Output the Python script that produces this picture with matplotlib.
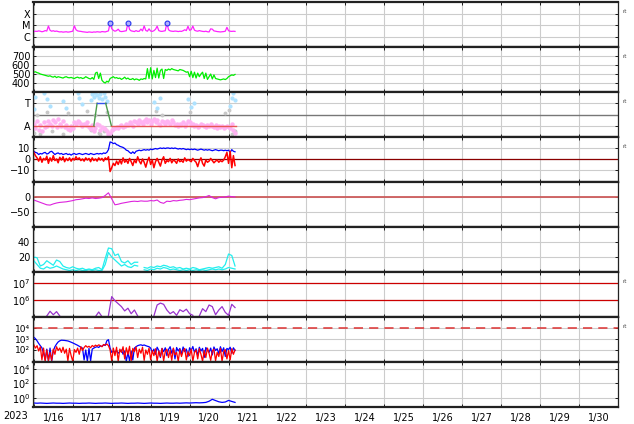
import numpy as np
import pandas as pd
import matplotlib
matplotlib.use('Agg')
import matplotlib.pyplot as plt
import matplotlib.dates as mdates
from matplotlib.ticker import FixedLocator, FixedFormatter, NullLocator, FuncFormatter

nan = np.nan
start = pd.Timestamp('2023-01-15 12:00')

# --- panel 1: x-ray flux (1e-6 W/m2), hourly
xray = [2.8, 3.0, 2.9, 3.2, 3.0, 2.7, 2.9, 3.4, 3.1, 8.5,
        3.6, 3.0, 3.3, 2.9, 3.1, 2.8, 2.6, 2.7, 2.5, 2.6,
        2.7, 2.5, 2.6, 2.8, 3.0, 8.8, 4.0, 3.2, 3.0, 2.9,
        2.7, 2.6, 2.5, 2.4, 2.6, 2.5, 2.4, 2.6, 2.5, 2.7,
        2.6, 2.5, 2.8, 2.7, 2.6, 2.9, 3.2, 16.0, 5.0, 3.6,
        3.0, 3.4, 4.5, 3.0, 2.8, 2.9, 3.1, 3.3, 16.0, 4.2,
        3.2, 3.0, 2.8, 3.4, 2.9, 3.0, 4.6, 3.2, 8.6, 3.5,
        3.0, 4.8, 3.1, 2.9, 3.3, 4.4, 8.2, 3.4, 3.0, 2.9,
        3.1, 3.3, 16.0, 4.0, 3.2, 3.0, 2.9, 3.1, 3.0, 2.8,
        3.0, 2.9, 3.3, 4.0, 3.4, 8.0, 3.6, 4.1, 8.4, 3.7,
        3.2, 3.0, 3.4, 3.1, 2.9, 2.8, 3.0, 2.7, 2.6, 4.8,
        4.5, 3.2, 3.0, 2.8, 2.7, 2.6, 2.7, 2.8, 3.0, 6.5,
        3.3, 3.0, 2.9, 3.0, 2.9]
flare_hours = [47, 58, 82]
flare_vals = [16.0, 16.0, 16.0]

# --- panel 2: wind speed, hourly
speed = [520, 525, 515, 510, 500, 495, 490, 485, 480,
         475, 480, 470, 465, 475, 460, 470, 465, 460, 455, 465, 470,
         460, 458, 462, 455, 450, 460, 465, 455, 460, 450, 455, 470, 460, 450, 445,
         460, 440, 510, 520, 450, 510, 430, 410, 400, 420, 410,
         450, 460, 470, 455, 460, 450, 455, 440, 450, 465, 445, 455, 440,
         440, 450, 435, 445, 440, 430, 445, 440, 450, 445,
         560, 450, 570, 445, 540, 460, 565, 455, 540, 555, 450,
         550, 540, 555, 545, 560, 550, 545, 540, 535, 550, 545, 540, 530, 520, 525,
         470, 530, 460, 520, 455, 510, 470, 500,
         520, 450, 510, 440, 470, 500, 445, 490, 450, 445, 440, 435,
         440, 445, 438, 450, 470, 480, 490, 485, 495]

# --- panel 3: status dots and state line
pink_dots = [1.2, 0.8, 1.4, 0.6, 1.1, 0.5, 1.3, 0.9, 1.0, 1.4,
             1.2, 1.0, 1.5, 1.3, 0.9, 1.6, 1.2, 1.0, 1.4, 0.9,
             1.1, 0.7, 0.6, 1.0, 0.8, 1.3, 1.2, 1.4, 1.3, 1.2,
             1.0, 1.2, 1.1, 1.3, 0.9, 0.7, 1.1, 0.5, 0.8, 1.2,
             1.1, 0.6, 0.9, 0.8, 0.7, 0.5, 0.3, 0.4, 0.6, 0.7,
             0.8, 0.9, 0.8, 1.0, 1.1, 0.9, 1.0, 1.2, 1.1, 1.3,
             1.2, 1.0, 1.4, 1.3, 1.2, 1.5, 1.3, 1.2, 1.4, 1.6,
             1.3, 1.5, 1.2, 1.4, 1.6, 1.3, 1.5, 1.2, 1.1, 1.4,
             1.3, 1.2, 1.4, 1.3, 1.2, 1.5, 1.3, 1.1, 1.2, 1.0,
             1.2, 1.1, 1.3, 1.0, 1.2, 1.4, 1.3, 1.1, 1.2, 1.0,
             1.1, 0.9, 1.0, 1.2, 1.1, 1.0, 0.9, 1.1, 1.0, 1.2,
             1.0, 0.9, 1.1, 0.8, 1.0, 0.9, 1.0, 0.8, 0.9, 1.0,
             0.9, 0.8, 1.2, 0.6, 0.4]
sky_hours = [0, 1, 6, 8, 10, 18, 20, 27, 28, 30,
             35, 36, 37, 38, 39, 40, 41, 42, 43, 44, 45,
             74, 76, 78, 95, 97, 99, 121, 122, 123, 124]
sky_vals = [2.5, 3.6, 3.9, 3.4, 2.8, 3.2, 2.6, 3.9, 3.5, 2.9,
            3.3, 3.8, 3.6, 3.9, 3.7, 3.5, 3.8, 3.4, 3.9, 3.6, 3.2,
            3.1, 2.6, 3.5, 3.4, 2.7, 3.0, 2.8, 3.5, 3.9, 3.3]
gray_hours = [0, 2, 4, 8, 11, 18, 21, 33, 35, 38, 40, 41, 43, 45, 75, 79, 96, 118, 120, 122, 124]
gray_vals = [0.4, 2.0, 0.3, 2.2, 0.5, 0.3, 2.1, 2.3, 0.6, 2.0, 0.4, 0.3, 0.5, 2.2, 2.3, 2.0, 2.2, 2.1, 2.4, 0.3, 0.5]
state_hours = [0, 37, 39, 44.3, 47.8, 124.5]
state_vals = [1, 1, 3, 3, 1, 1]
state_colors = ['#e85555', '#4a9a4a', '#3355ee', '#4a9a4a', '#e85555']

# --- panel 4: field components, hourly
bz_blue = [7.0, 6.0, 5.5, 4.0, 5.0, 4.5, 5.5, 6.0, 4.5, 5.0,
           6.5, 7.0, 5.5, 4.0, 5.0, 5.5, 4.5, 5.0, 4.0, 4.5,
           5.0, 4.0, 4.5, 3.5, 4.5, 5.0, 4.0, 4.5, 5.0, 4.5,
           4.0, 4.5, 5.0, 4.5, 4.0, 5.0, 4.5, 4.0, 4.5, 5.0,
           4.5, 5.0, 4.5, 5.5, 5.0, 6.0, 8.5,
           15.5, 15.0, 14.0, 14.5, 13.0, 12.5, 11.5, 11.0, 10.5, 9.5,
           8.0, 7.5, 6.0, 5.0, 6.5, 5.0, 7.0, 7.5, 8.0, 7.5,
           8.0, 8.5, 8.0, 8.5, 8.0, 9.0, 8.5, 9.0, 9.5, 9.0,
           9.5, 10.0, 9.5, 10.0, 9.5, 10.0, 10.0, 9.5, 10.0, 9.5,
           10.0, 9.5, 9.0, 9.5, 9.0, 9.5, 9.0, 8.5, 9.0, 8.5,
           9.0, 8.5, 9.0, 8.5, 8.0, 8.5, 9.0, 8.5, 8.0, 8.5,
           8.0, 8.5, 8.0, 7.5, 8.0, 8.5, 8.0, 7.5, 8.0, 8.0,
           7.5, 8.0, 7.5, 8.0, 6.0, 8.5, 7.0, 6.5]
bz_red = [6.0, 3.0, 1.0, -2.0, 2.0, -3.0, 0.5, -1.0, 2.5, -4.0,
          1.0, -2.0, 3.0, -1.5, 0.0, -3.5, 1.5, -1.0, 2.0, -2.5,
          0.5, -1.5, 1.0, -2.0, 0.5, -1.0, 2.0, -0.5, 1.0, -1.5,
          0.0, -2.0, 1.0, -1.0, 0.5, -2.5, 1.0, -1.5, 0.0, -2.0,
          1.0, -1.0, 0.5, -2.0, 1.0, -0.5, 2.0,
          -11.5, -8.0, -4.0, -6.0, -2.0, -5.0, -1.0, -4.5, 1.0, -3.0,
          -1.0, -4.0, 0.5, -2.5, -6.0, -1.0, -3.5, 2.0, -2.0, -4.5,
          0.0, -3.0, -7.5, -2.0, 1.5, -5.0, -1.0, -8.0, -2.5, 0.5,
          -3.0, -6.5, -1.0, 2.0, -4.0, -1.5, -2.5, 0.5, -3.5, -1.0,
          -2.0, -4.0, 0.0, -2.5, -1.5, -3.0, 1.0, -2.0, -0.5, -1.5,
          -2.5, 0.5, -1.5, -3.0, -7.0, -2.0, 1.0, -4.0, -6.5, -1.0,
          -3.0, -2.0, 0.5, -1.5, -3.5, -2.0, -1.0, -3.0, -1.5, -2.5,
          -1.0, 2.0, 6.0, -4.0, 7.0, -8.0, 3.0, -6.0]

# --- panel 5: index, 2-hourly
dst = [-10, -14, -18, -22, -26, -27, -23, -20, -18, -17,
       -16, -14, -12, -9, -8, -6, -4, -5, -3, -5,
       -4, -2, 5, 14, -6, -26, -24, -21, -19, -17,
       -15, -14, -15, -13, -14, -14, -12, -13, -10, -18,
       -21, -14, -15, -12, -13, -11, -10, -8, -9, -7,
       -5, -3, -2, 1, 5, -2, -6, -2, -1, 0,
       3, 1, 0]

# --- panel 6: two cyan traces, 2-hourly
cyan_a = [20, 19, 8, 10, 15, 12, 9, 16, 14, 8,
          6, 5, 7, 5, 4, 5, 3, 4, 3, 5,
          6, 3, 18, 32, 31, 22, 24, 14, 12, 15,
          10, 13, 13, nan, 6, 5, 7, 6, 8, 7,
          9, 8, 6, 7, 5, 6, 4, 5, 4, 6,
          5, 3, 4, 5, 6, 5, 6, 7, 5, 10,
          24, 22, 8]
cyan_b = [15, 10, 5, 4, 7, 5, 6, 8, 6, 4,
          3, 2, 3, 2, 3, 2, 2, 3, 2, 3,
          2, 2, 10, 26, 20, 16, 12, 8, 10, 7,
          6, 9, 8, nan, 3, 2, 4, 3, 5, 4,
          6, 5, 3, 4, 3, 2, 3, 2, 3, 2,
          3, 2, 3, 2, 3, 4, 3, 4, 3, 4,
          6, 5, 4]

# --- panel 7: proton flux, 2-hourly
proton = [nan, nan, nan, nan, 1.1e5, 2.1e5, 1.3e5, 2.0e5, 1.1e5, nan,
          nan, nan, nan, nan, nan, nan, nan, nan, nan, 1.0e5,
          1.9e5, 1.0e5, nan, 1.2e5, 1.6e6, 9e5, 6e5, 4e5, 2.2e5, 3.2e5,
          1.5e5, 2.5e5, 1.1e5, nan, nan, nan, nan, 1.1e5, 5e5, 6.5e5,
          5.5e5, 2.5e5, 1.5e5, 2e5, 1.2e5, 2.6e5, 2e5, 2.8e5, 1.5e5, 1.2e5,
          nan, 1.1e5, 3e5, 2e5, 5e5, 4e5, 1.3e5, 2.5e5, 4e5, 1.8e5,
          1.2e5, 5.5e5, 3.5e5]

# --- panel 8: electron / particle counts, hourly
e_blue = [1500, 1100, 700, 400, 250, 160, 50, 12, 120, 10,
          150, 9, 80, 200, 350, 550, 700, 800, 780, 760,
          720, 680, 600, 520, 450, 380, 320, 270, 220, 180,
          150, 12, 100, 9, 140, 10, 120, 150, 180, 200,
          170, 240, 210, 300, 260, 700, 900, 150, 60, 80,
          60, 90, 50, 70, 100, 40, 80, 9, 60, 10,
          80, 12, 150, 200, 250, 280, 300, 260, 290, 250,
          220, 200, 150, 60, 120, 40, 180, 90, 20, 140,
          70, 160, 30, 110, 200, 50, 130, 15, 170, 80,
          140, 40, 190, 70, 120, 25, 160, 90, 210, 60,
          130, 30, 180, 80, 140, 20, 170, 100, 60, 150,
          35, 190, 90, 130, 45, 200, 70, 160, 25, 140,
          110, 180, 50, 160, 90]
e_red = [300, 150, 250, 80, 200, 12, 150, 9, 100, 10,
         60, 11, 120, 40, 200, 90, 150, 60, 180, 50,
         120, 10, 140, 30, 9, 110, 60, 150, 40, 200,
         90, 170, 250, 180, 220, 160, 260, 200, 280, 230,
         300, 250, 200, 320, 280, 350, 250, 100, 10, 150,
         30, 180, 9, 120, 60, 200, 15, 160, 40, 220,
         10, 140, 70, 190, 20, 120, 50, 180, 11, 100,
         40, 150, 12, 90, 30, 130, 9, 80, 25, 140,
         10, 70, 120, 20, 90, 11, 150, 35, 60, 9,
         110, 25, 80, 140, 12, 70, 30, 120, 9, 60,
         100, 15, 130, 40, 9, 90, 20, 150, 50, 11,
         80, 120, 10, 60, 25, 140, 9, 70, 110, 15,
         90, 12, 130, 40, 100]
e_tick_labels = ['10\u00b2', '10\u00b3', '10\u2074']

# --- panel 9: 2-hourly
low_flux = [0.18, 0.17, 0.18, 0.17, 0.16, 0.17, 0.18, 0.17, 0.17, 0.16,
            0.17, 0.18, 0.17, 0.17, 0.16, 0.17, 0.17, 0.18, 0.17, 0.16,
            0.17, 0.17, 0.18, 0.17, 0.16, 0.17, 0.17, 0.18, 0.17, 0.16,
            0.17, 0.17, 0.18, 0.17, 0.16, 0.17, 0.18, 0.17, 0.17, 0.16,
            0.17, 0.18, 0.17, 0.17, 0.18, 0.17, 0.18, 0.19, 0.18, 0.19,
            0.20, 0.19, 0.20, 0.22, 0.32, 0.60, 0.40, 0.27, 0.22, 0.25,
            0.42, 0.30, 0.22]


def hourly(vals):
    return pd.date_range(start, periods=len(vals), freq='1h')


def two_hourly(vals):
    return pd.date_range(start, periods=len(vals), freq='2h')


def at_hours(hours):
    return start + pd.to_timedelta(hours, unit='h')


plt.rcParams['font.family'] = 'DejaVu Sans'
fig, axs = plt.subplots(9, 1, sharex=True, figsize=(6.34, 4.24), dpi=100)
fig.subplots_adjust(left=33/634, right=618/634, top=1-2/424, bottom=1-407/424, hspace=0)

grid_kw = dict(color='#cccccc', linewidth=0.8)

# 1
ax = axs[0]
ax.plot(hourly(xray), np.array(xray) * 1e-6, color='#ff22ff', lw=0.9)
ax.plot(at_hours(flare_hours), np.array(flare_vals) * 1e-6, 'o', ms=3.5,
        mfc='#b0b0ff', mec='#2233ee', mew=0.8, ls='none')
ax.set_yscale('log')
ax.set_ylim(1.3e-7, 1e-3)
ax.yaxis.set_major_locator(FixedLocator([1e-6, 1e-5, 1e-4]))
ax.yaxis.set_major_formatter(FixedFormatter(['C', 'M', 'X']))
ax.yaxis.set_minor_locator(NullLocator())

# 2
ax = axs[1]
ax.plot(hourly(speed), speed, color='#00ee00', lw=0.9)
ax.set_ylim(300, 800)
ax.set_yticks([400, 500, 600, 700])

# 3
ax = axs[2]
ax.axhline(2, color='#777777', lw=1)
ax.plot(at_hours(gray_hours), gray_vals, 'o', ms=1.8, color='#c8c8c8', ls='none')
ax.plot(at_hours(sky_hours), sky_vals, 'o', ms=2.0, color='#aee2ff', ls='none')
ax.plot(hourly(pink_dots), pink_dots, 'o', ms=2.2, color='#ffb3f2', ls='none')
for i in range(len(state_colors)):
    ax.plot(at_hours(state_hours[i:i + 2]), state_vals[i:i + 2], color=state_colors[i], lw=1)
ax.set_ylim(0, 4)
ax.set_yticks([1, 3])
ax.set_yticklabels(['A', 'T'])

# 4
ax = axs[3]
ax.axhline(0, color='#8b0000', lw=0.9)
ax.plot(hourly(bz_blue), bz_blue, color='#0000ff', lw=0.9)
ax.plot(hourly(bz_red), bz_red, color='#ff0000', lw=1.1)
ax.set_ylim(-21, 20)
ax.set_yticks([-10, 0, 10])
ax.yaxis.set_major_formatter(FuncFormatter(lambda v, _: f'{v:.0f}'.replace('-', '\u2212')))

# 5
ax = axs[4]
ax.axhline(0, color='#cd5c5c', lw=1.3)
ax.plot(two_hourly(dst), dst, color='#dd22dd', lw=0.8)
ax.set_ylim(-100, 50)
ax.set_yticks([-50, 0])
ax.yaxis.set_major_formatter(FuncFormatter(lambda v, _: f'{v:.0f}'.replace('-', '\u2212')))

# 6
ax = axs[5]
ax.plot(two_hourly(cyan_a), cyan_a, color='#22eeee', lw=0.9)
ax.plot(two_hourly(cyan_b), cyan_b, color='#22eeee', lw=0.9)
ax.set_ylim(0, 60)
ax.set_yticks([20, 40])

# 7
ax = axs[6]
ax.axhline(1e7, color='#cc0000', lw=0.9)
ax.axhline(1e6, color='#cc0000', lw=0.9)
ax.plot(two_hourly(proton), proton, color='#9933cc', lw=0.9)
ax.set_yscale('log')
ax.set_ylim(9.5e4, 4.8e7)
ax.yaxis.set_major_locator(FixedLocator([1e6, 1e7]))
ax.yaxis.set_minor_locator(NullLocator())

# 8
ax = axs[7]
ax.axhline(1e4, color='#dd3333', lw=1.1, dashes=(6, 4))
ax.plot(hourly(e_blue), e_blue, color='#0000ff', lw=0.9)
ax.plot(hourly(e_red), e_red, color='#ff0000', lw=0.9)
ax.set_yscale('log')
ax.set_ylim(7.8, 1.1e5)
ax.yaxis.set_major_locator(FixedLocator([1e2, 1e3, 1e4]))
ax.yaxis.set_major_formatter(FixedFormatter(e_tick_labels))
ax.yaxis.set_minor_locator(NullLocator())

# 9
ax = axs[8]
ax.plot(two_hourly(low_flux), low_flux, color='#0000ff', lw=0.9)
ax.set_yscale('log')
ax.set_ylim(0.05, 1e5)
ax.yaxis.set_major_locator(FixedLocator([1e0, 1e2, 1e4]))
ax.yaxis.set_minor_locator(NullLocator())

rt_panels = [0, 1, 2, 3, 6, 7]
for i, ax in enumerate(axs):
    ax.set_xlim(pd.Timestamp('2023-01-15 11:30'), pd.Timestamp('2023-01-30 12:00'))
    ax.xaxis.set_major_locator(mdates.DayLocator())
    ax.xaxis.set_minor_locator(mdates.HourLocator(byhour=12))
    ax.xaxis.set_major_formatter(FuncFormatter(
        lambda v, _: f'{mdates.num2date(v).month}/{mdates.num2date(v).day}'))
    ax.grid(True, axis='x', which='minor', **grid_kw)
    ax.grid(True, axis='y', which='major', **grid_kw)
    ax.set_axisbelow(True)
    ax.tick_params(axis='x', which='major', length=0, labelsize=7, pad=4)
    ax.tick_params(axis='x', which='minor', direction='in', length=2.5, top=True, bottom=True, width=0.6)
    ax.tick_params(axis='y', which='major', direction='in', length=2.5, right=True, labelsize=7, pad=2, width=0.6)
    for side in ('top', 'bottom'):
        ax.spines[side].set_linewidth(1.6)
        ax.spines[side].set_color('#222222')
    for side in ('left', 'right'):
        ax.spines[side].set_linewidth(0.9)
        ax.spines[side].set_color('#222222')
    if i in rt_panels:
        ax.text(1.012, 0.785, 'rt', transform=ax.transAxes, fontsize=4,
                ha='center', va='center', color='#444444')

# tightly stacked decade labels on the particle panel
axs[7].tick_params(axis='y', labelsize=6.5)

fig.text(16/634, 1 - 416/424, '2023', ha='center', va='center', fontsize=7)

fig.savefig('out.png', dpi=100)
